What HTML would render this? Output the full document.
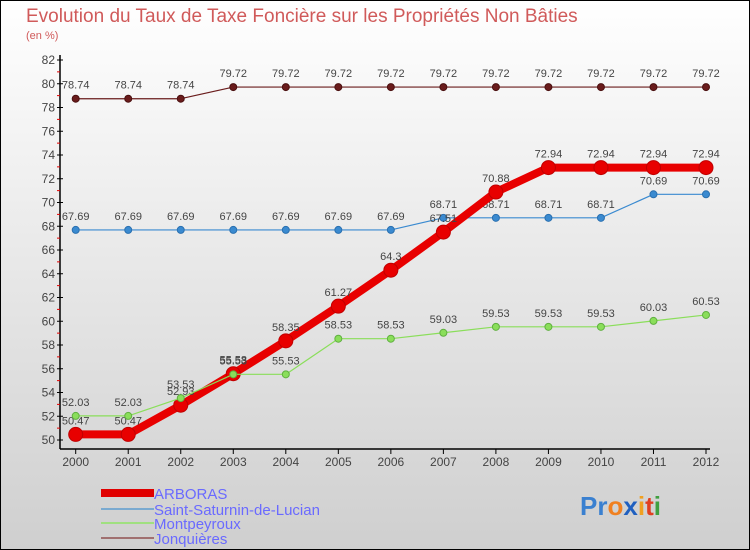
<!DOCTYPE html>
<html><head><meta charset="utf-8"><style>
body{margin:0}
#c{width:750px;height:550px;position:relative;overflow:hidden;font-family:"Liberation Sans",sans-serif}
</style></head><body>
<div id="c">
<svg id="s" width="750" height="550" xmlns="http://www.w3.org/2000/svg">
<defs><linearGradient id="bg" x1="0" y1="0" x2="0" y2="1"><stop offset="0" stop-color="#ffffff"/><stop offset="1" stop-color="#cfcfcf"/></linearGradient></defs>
<rect x="0.5" y="0.5" width="749" height="549" fill="url(#bg)" stroke="#000"/>
<text x="26" y="22" font-size="19" fill="#d05a5a">Evolution du Taux de Taxe Foncière sur les Propriétés Non Bâties</text>
<text x="26" y="39" font-size="11" fill="#d05a5a">(en %)</text>
<g id="axes"></g><g id="series"></g>
<g font-size="15" fill="#6a6aff">
<rect x="101" y="489" width="53" height="8" fill="#e00000"/>
<text x="154" y="499">ARBORAS</text>
<rect x="101" y="508" width="53" height="2" fill="#7aaad0"/>
<text x="154" y="515">Saint-Saturnin-de-Lucian</text>
<rect x="101" y="522" width="53" height="2" fill="#a0e080"/>
<text x="154" y="529">Montpeyroux</text>
<rect x="101" y="537" width="53" height="2" fill="#a07070"/>
<text x="154" y="544">Jonquières</text>
</g>
<text x="580" y="515" font-size="26" font-weight="bold"><tspan fill="#3a80d0">Pr</tspan><tspan fill="#f08020">o</tspan><tspan fill="#2060c0">x</tspan><tspan fill="#f0a020">i</tspan><tspan fill="#e04020">t</tspan><tspan fill="#40a040">i</tspan></text>
</svg>
</div>
<script>
const years=[2000,2001,2002,2003,2004,2005,2006,2007,2008,2009,2010,2011,2012];
const yTicks=[50,52,54,56,58,60,62,64,66,68,70,72,74,76,78,80,82];
const arboras=[50.47,50.47,52.93,55.58,58.35,61.27,64.3,67.51,70.88,72.94,72.94,72.94,72.94];
const saintSaturnin=[67.69,67.69,67.69,67.69,67.69,67.69,67.69,68.71,68.71,68.71,68.71,70.69,70.69];
const montpeyroux=[52.03,52.03,53.53,55.53,55.53,58.53,58.53,59.03,59.53,59.53,59.53,60.03,60.53];
const jonquieres=[78.74,78.74,78.74,79.72,79.72,79.72,79.72,79.72,79.72,79.72,79.72,79.72,79.72];
const NS="http://www.w3.org/2000/svg";
const xS=i=>75.7+i*(706-75.7)/(years.length-1);
const yS=v=>440-(v-50)*(380/32);
function mk(t,a,p){const e=document.createElementNS(NS,t);for(const k in a)e.setAttribute(k,a[k]);p.appendChild(e);return e;}
const ax=document.getElementById('axes');
let e=mk('line',{x1:60,y1:55,x2:60,y2:449,stroke:'#000','stroke-width':1.5},ax);


e=mk('line',{x1:60,y1:449,x2:710,y2:449,stroke:'#000','stroke-width':1.5},ax);


yTicks.forEach((v,i)=>{
 mk('line',{x1:57,y1:yS(v),x2:63,y2:yS(v),stroke:'#000'},ax);
 if(i<yTicks.length-1)mk('line',{x1:57,y1:yS(v+1),x2:60,y2:yS(v+1),stroke:'#e00000'},ax);
 const t=mk('text',{x:55,y:yS(v)+4,'font-size':12,'text-anchor':'end',fill:'#444'},ax);t.textContent=v;
 
 
});
years.forEach((y,i)=>{
 mk('line',{x1:xS(i),y1:449,x2:xS(i),y2:454,stroke:'#000'},ax);
 const t=mk('text',{x:xS(i),y:466,'font-size':12,'text-anchor':'middle',fill:'#444'},ax);t.textContent=y;
 
 
});
const sg=document.getElementById('series');
function draw(d,name,color,w,r,stroke){
 const g=mk('g',{},sg);
 
 
 const l=mk('polyline',{points:d.map((v,i)=>xS(i)+','+yS(v)).join(' '),fill:'none',stroke:color,'stroke-width':w,'stroke-linejoin':'round'},g);
 
 
 d.forEach((v,i)=>{
  const c=mk('circle',{cx:xS(i),cy:yS(v),r:r,fill:color,stroke:stroke,'stroke-width':1},g);
  
  
  const t=mk('text',{x:xS(i),y:yS(v)-10,'font-size':11,'text-anchor':'middle',fill:'#444'},g);
  t.textContent=String(v);
  
  
 });
}
draw(jonquieres,'jonquieres','#6a1c1c',1.2,3.5,'#4a1010');
draw(saintSaturnin,'saint-saturnin','#3a8ad0',1.2,3.5,'#2a70b0');
draw(arboras,'arboras','#e80000',8,7,'#c00000');
draw(montpeyroux,'montpeyroux','#8ade5a',1.2,3.5,'#60b040');
</script>
</body></html>
